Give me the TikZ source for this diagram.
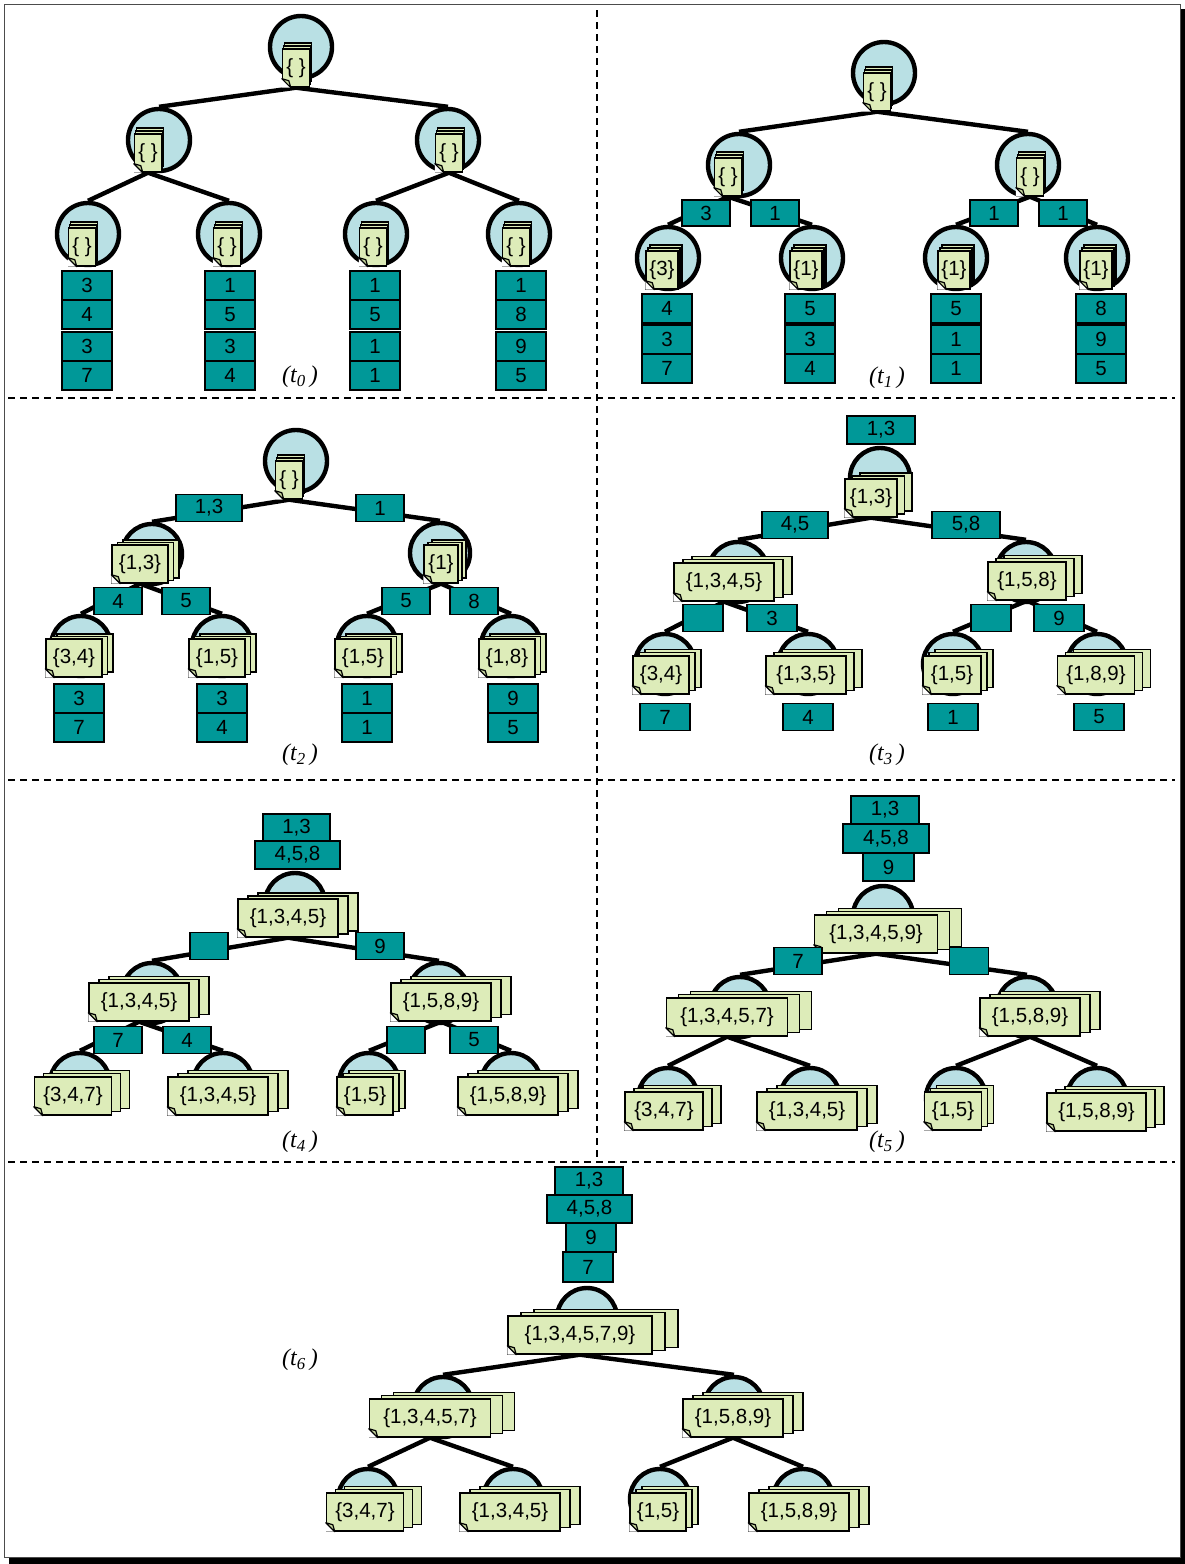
\documentclass[tikz,border=0pt]{standalone}
\usepackage{fontspec}
\setmainfont{Liberation Sans}
\newfontfamily\serifit{Liberation Serif}
\usetikzlibrary{shadows}
\definecolor{tealbox}{RGB}{0,152,152}
\definecolor{cblue}{RGB}{185,224,228}
\definecolor{dgreen}{RGB}{221,236,185}
\definecolor{dfold}{RGB}{196,212,156}
\pgfdeclarelayer{back}\pgfdeclarelayer{bg}\pgfsetlayers{back,bg,main}
\tikzset{
  circ/.style={circle, draw=black, line width=4.4pt, fill=cblue, inner sep=0pt},
  pagesty/.style={fill=dgreen, draw=black, line width=1.4pt},
  docbase/.style={rectangle, draw=black, line width=1.4pt, fill=dgreen, minimum height=38pt,
    inner xsep=2pt, inner ysep=0pt, font=\fontsize{20.5}{22}\selectfont},
  lbl/.style={rectangle, draw=black, line width=1.9pt, fill=tealbox, minimum height=27pt,
    minimum width=48pt, inner sep=0pt, font=\fontsize{20.5}{22}\selectfont},
  leaf/.style={lbl, minimum width=50pt, minimum height=29pt},
  edge/.style={line width=4.4pt, draw=black},
  tlab/.style={font=\fontsize{24}{26}\selectfont\serifit\itshape},
  sep/.style={draw=black, line width=1.3pt, dash pattern=on 7pt off 5pt},
}
\newcommand\dogear[1]{%
  \fill[white] (#1.south west) -- ([xshift=9pt]#1.south west) -- ([yshift=9pt]#1.south west) -- cycle;
  \filldraw[fill=dfold, draw=black, line width=1.2pt, line join=round]
    ([yshift=9pt]#1.south west) -- ([xshift=9pt]#1.south west) -- ([xshift=7pt,yshift=7pt]#1.south west) -- cycle;
}
% #1 name #2 circle centre #3 doc centre #4 text #5 width #6 dx #7 dy #8 circle size
\newcommand\tnode[8]{%
  \node[circ, minimum size=#8pt] (#1) at (#2) {};
  \pgfmathsetmacro\pgdxa{2*#6}\pgfmathsetmacro\pgdya{2*#7}%
  \node[docbase, minimum width=#5pt,
     general shadow={shadow xshift=\pgdxa pt, shadow yshift=\pgdya pt, pagesty},
     general shadow={shadow xshift=#6pt, shadow yshift=#7pt, pagesty}] (#1d) at (#3) {#4};
  \dogear{#1d}%
}
\begin{document}
\begin{tikzpicture}[x=1pt,y=-1pt]
\useasboundingbox (0,0) rectangle (1185,1564);
\begin{pgfonlayer}{back}
\fill[black] (9,9) rectangle (1185,1564);
\filldraw[fill=white, draw=black!70, line width=1pt] (4,4) rectangle (1180,1557);
\draw[sep] (597,10) -- (597,1162);
\draw[sep] (8,398) -- (1175,398);
\draw[sep] (8,780) -- (1175,780);
\draw[sep] (8,1162) -- (1175,1162);
\end{pgfonlayer}

% ---------------- t0 ----------------
\tnode{a0}{301,47}{296,68}{\{ \}}{27}{1}{3}{62}
\tnode{a1}{159,140}{148,153}{\{ \}}{27}{1}{3}{62}
\tnode{a2}{448,140}{449,153}{\{ \}}{27}{1}{3}{62}
\tnode{a3}{88,234}{82,247}{\{ \}}{27}{1}{3}{62}
\tnode{a4}{229,234}{227,247}{\{ \}}{27}{1}{3}{62}
\tnode{a5}{376,234}{373,247}{\{ \}}{27}{1}{3}{62}
\tnode{a6}{519,234}{516,247}{\{ \}}{27}{1}{3}{62}
\begin{pgfonlayer}{bg}
\draw[edge] (a0d.south) -- (a1.north) (a0d.south) -- (a2.north)
  (a1d.south) -- (a3.north) (a1d.south) -- (a4.north)
  (a2d.south) -- (a5.north) (a2d.south) -- (a6.north);
\end{pgfonlayer}
\node[leaf] (a3l1) at (87,285.5) {3};
\node[leaf] (a3l2) at (87,314.5) {4};
\node[leaf] (a3l3) at (87,346.5) {3};
\node[leaf] (a3l4) at (87,375.5) {7};
\node[leaf] (a4l1) at (230,285.5) {1};
\node[leaf] (a4l2) at (230,314.5) {5};
\node[leaf] (a4l3) at (230,346.5) {3};
\node[leaf] (a4l4) at (230,375.5) {4};
\node[leaf] (a5l1) at (375,285.5) {1};
\node[leaf] (a5l2) at (375,314.5) {5};
\node[leaf] (a5l3) at (375,346.5) {1};
\node[leaf] (a5l4) at (375,375.5) {1};
\node[leaf] (a6l1) at (521,285.5) {1};
\node[leaf] (a6l2) at (521,314.5) {8};
\node[leaf] (a6l3) at (521,346.5) {9};
\node[leaf] (a6l4) at (521,375.5) {5};
\node[tlab] (ta) at (300,377) {(t\textsubscript{0}\,)};

% ---------------- t1 ----------------
\tnode{b0}{884,73}{877,92}{\{ \}}{27}{1}{3}{62}
\tnode{b1}{739,165}{728,177}{\{ \}}{27}{1}{3}{62}
\tnode{b2}{1028,165}{1030,177}{\{ \}}{27}{1}{3}{62}
\tnode{b3}{668,258}{662,270}{\{3\}}{32}{2}{3}{62}
\tnode{b4}{812,258}{806,270}{\{1\}}{32}{2}{3}{62}
\tnode{b5}{956,258}{954,270}{\{1\}}{32}{2}{3}{62}
\tnode{b6}{1097,258}{1096,270}{\{1\}}{32}{2}{3}{62}
\begin{pgfonlayer}{bg}
\draw[edge] (b0d.south) -- (b1.north) (b0d.south) -- (b2.north)
  (b1d.south) -- (b3.north) (b1d.south) -- (b4.north)
  (b2d.south) -- (b5.north) (b2d.south) -- (b6.north);
\end{pgfonlayer}
\node[lbl, minimum height=26pt] (be1) at (706,213) {3};
\node[lbl, minimum height=26pt] (be2) at (775,213) {1};
\node[lbl, minimum height=26pt] (be3) at (994,213) {1};
\node[lbl, minimum height=26pt] (be4) at (1063,213) {1};
\node[leaf] (b3l1) at (667,308.5) {4};
\node[leaf] (b3l2) at (667,339.5) {3};
\node[leaf] (b3l3) at (667,368.5) {7};
\node[leaf] (b4l1) at (810,308.5) {5};
\node[leaf] (b4l2) at (810,339.5) {3};
\node[leaf] (b4l3) at (810,368.5) {4};
\node[leaf] (b5l1) at (956,308.5) {5};
\node[leaf] (b5l2) at (956,339.5) {1};
\node[leaf] (b5l3) at (956,368.5) {1};
\node[leaf] (b6l1) at (1101,308.5) {8};
\node[leaf] (b6l2) at (1101,339.5) {9};
\node[leaf] (b6l3) at (1101,368.5) {5};
\node[tlab] (tb) at (887,378) {(t\textsubscript{1}\,)};

% ---------------- t2 ----------------
\tnode{c0}{296,461}{289,480}{\{ \}}{27}{1}{3}{62}
\tnode{c1}{152,554}{140,564}{\{1,3\}}{56}{5.5}{2.5}{60}
\tnode{c2}{440,553}{441,564}{\{1\}}{34}{4}{2.5}{60}
\tnode{c3}{81,646}{74,658}{\{3,4\}}{56}{5.5}{2.5}{60}
\tnode{c4}{222,646}{217,658}{\{1,5\}}{56}{5.5}{2.5}{60}
\tnode{c5}{367,646}{363,658}{\{1,5\}}{56}{5.5}{2.5}{60}
\tnode{c6}{511,646}{507,658}{\{1,8\}}{56}{5.5}{2.5}{60}
\begin{pgfonlayer}{bg}
\draw[edge] (c0d.south) -- (c1.north) (c0d.south) -- (c2.north)
  (c1d.south) -- (c3.north) (c1d.south) -- (c4.north)
  (c2d.south) -- (c5.north) (c2d.south) -- (c6.north);
\end{pgfonlayer}
\node[lbl, minimum width=66pt] (ce1) at (209,508) {1,3};
\node[lbl] (ce2) at (380,508) {1};
\node[lbl] (ce3) at (118,601) {4};
\node[lbl] (ce4) at (186,601) {5};
\node[lbl] (ce5) at (406,601) {5};
\node[lbl] (ce6) at (474,601) {8};
\node[leaf] (c3l1) at (79,698.5) {3};
\node[leaf] (c3l2) at (79,727.5) {7};
\node[leaf] (c4l1) at (222,698.5) {3};
\node[leaf] (c4l2) at (222,727.5) {4};
\node[leaf] (c5l1) at (367,698.5) {1};
\node[leaf] (c5l2) at (367,727.5) {1};
\node[leaf] (c6l1) at (513,698.5) {9};
\node[leaf] (c6l2) at (513,727.5) {5};
\node[tlab] (tc) at (300,755) {(t\textsubscript{2}\,)};

% ---------------- t3 ----------------
\node[lbl, minimum width=68pt, minimum height=28pt] (dt1) at (881,430) {1,3};
\tnode{d0}{880,478}{871,498}{\{1,3\}}{52}{7.5}{3}{60}
\tnode{d1}{738,572}{724,582}{\{1,3,4,5\}}{100}{9}{3.3}{60}
\tnode{d2}{1026,572}{1027,581}{\{1,5,8\}}{78}{8}{3.3}{60}
\tnode{d3}{665,664}{661,675}{\{3,4\}}{56}{6}{3.3}{60}
\tnode{d4}{808,664}{806,675}{\{1,3,5\}}{80}{8}{3.3}{60}
\tnode{d5}{953,664}{952,675}{\{1,5\}}{58}{6}{3.3}{60}
\tnode{d6}{1097,664}{1096,675}{\{1,8,9\}}{77}{8}{3.3}{60}
\begin{pgfonlayer}{bg}
\draw[edge] (d0d.south) -- (d1.north) (d0d.south) -- (d2.north)
  (d1d.south) -- (d3.north) (d1d.south) -- (d4.north)
  (d2d.south) -- (d5.north) (d2d.south) -- (d6.north);
\end{pgfonlayer}
\node[lbl, minimum width=66pt] (de1) at (795,525) {4,5};
\node[lbl, minimum width=68pt] (de2) at (966,525) {5,8};
\node[lbl, minimum width=40pt] (de3) at (703,618) {};
\node[lbl, minimum width=50pt] (de4) at (772,618) {3};
\node[lbl, minimum width=40pt] (de5) at (991,618) {};
\node[lbl, minimum width=50pt] (de6) at (1059,618) {9};
\node[lbl, minimum width=50pt] (d3l1) at (665,717) {7};
\node[lbl, minimum width=50pt] (d4l1) at (808,717) {4};
\node[lbl, minimum width=50pt] (d5l1) at (953,717) {1};
\node[lbl, minimum width=50pt] (d6l1) at (1099,717) {5};
\node[tlab] (td) at (887,755) {(t\textsubscript{3}\,)};

% ---------------- t4 ----------------
\node[lbl, minimum width=67pt] (et1) at (296.5,827.5) {1,3};
\node[lbl, minimum width=85pt, minimum height=28pt] (et2) at (297.5,855) {4,5,8};
\tnode{e0}{295,903}{288,918}{\{1,3,4,5\}}{100}{10}{3}{60}
\tnode{e1}{152,993}{139,1002}{\{1,3,4,5\}}{100}{10}{3.3}{60}
\tnode{e2}{439,993}{441,1002}{\{1,5,8,9\}}{100}{10}{3.3}{60}
\tnode{e3}{80,1083}{73,1096}{\{3,4,7\}}{77}{9}{3.3}{60}
\tnode{e4}{223,1083}{218,1096}{\{1,3,4,5\}}{100}{10}{3.3}{60}
\tnode{e5}{369,1083}{365,1096}{\{1,5\}}{56}{6}{3.3}{60}
\tnode{e6}{511,1083}{508,1096}{\{1,5,8,9\}}{100}{10}{3.3}{60}
\begin{pgfonlayer}{bg}
\draw[edge] (e0d.south) -- (e1.north) (e0d.south) -- (e2.north)
  (e1d.south) -- (e3.north) (e1d.south) -- (e4.north)
  (e2d.south) -- (e5.north) (e2d.south) -- (e6.north);
\end{pgfonlayer}
\node[lbl, minimum width=38pt] (ee1) at (209,946) {};
\node[lbl] (ee2) at (380,946) {9};
\node[lbl] (ee3) at (118,1040) {7};
\node[lbl] (ee4) at (187,1040) {4};
\node[lbl, minimum width=38pt] (ee5) at (406,1040) {};
\node[lbl] (ee6) at (474,1040) {5};
\node[tlab] (te) at (300,1142) {(t\textsubscript{4}\,)};

% ---------------- t5 ----------------
\node[lbl, minimum width=68pt, minimum height=28pt] (ft1) at (885,810) {1,3};
\node[lbl, minimum width=86pt, minimum height=29pt] (ft2) at (886,838.5) {4,5,8};
\node[lbl, minimum width=51pt, minimum height=28pt] (ft3) at (888.5,867) {9};
\tnode{f0}{883,916}{876,934}{\{1,3,4,5,9\}}{123}{12}{3.3}{60}
\tnode{f1}{740,1007}{727,1017}{\{1,3,4,5,7\}}{121}{12}{3.3}{60}
\tnode{f2}{1027,1007}{1030,1017}{\{1,5,8,9\}}{100}{10}{3.3}{60}
\tnode{f3}{668,1098}{664,1111}{\{3,4,7\}}{78}{9}{3.3}{60}
\tnode{f4}{810,1098}{807,1111}{\{1,3,4,5\}}{100}{10}{3.3}{60}
\tnode{f5}{956,1098}{953,1111}{\{1,5\}}{57}{6}{3.3}{60}
\tnode{f6}{1097,1098}{1096.5,1112}{\{1,5,8,9\}}{99}{9}{3.3}{60}
\begin{pgfonlayer}{bg}
\draw[edge] (f0d.south) -- (f1.north) (f0d.south) -- (f2.north)
  (f1d.south) -- (f3.north) (f1d.south) -- (f4.north)
  (f2d.south) -- (f5.north) (f2d.south) -- (f6.north);
\end{pgfonlayer}
\node[lbl] (fe1) at (798,961) {7};
\node[lbl, minimum width=39pt] (fe2) at (969,961) {};
\node[tlab] (tf) at (887,1142) {(t\textsubscript{5}\,)};

% ---------------- t6 ----------------
\node[lbl, minimum width=68pt, minimum height=28pt] (gt1) at (589,1181) {1,3};
\node[lbl, minimum width=85pt, minimum height=28pt] (gt2) at (589.5,1209) {4,5,8};
\node[lbl, minimum width=50pt, minimum height=29pt] (gt3) at (591,1237.5) {9};
\node[lbl, minimum width=50pt, minimum height=30pt] (gt4) at (588,1267) {7};
\tnode{g0}{587,1318}{580,1335}{\{1,3,4,5,7,9\}}{144}{13}{3.3}{60}
\tnode{g1}{443,1407}{430,1418}{\{1,3,4,5,7\}}{121}{12}{3.3}{60}
\tnode{g2}{734,1407}{733,1418}{\{1,5,8,9\}}{100}{10}{3.3}{60}
\tnode{g3}{368,1499}{365,1512}{\{3,4,7\}}{77}{9}{3.3}{60}
\tnode{g4}{513,1499}{510,1512}{\{1,3,4,5\}}{100}{10}{3.3}{60}
\tnode{g5}{660,1499}{658,1512}{\{1,5\}}{56}{6}{3.3}{60}
\tnode{g6}{803,1499}{799,1512}{\{1,5,8,9\}}{100}{10}{3.3}{60}
\begin{pgfonlayer}{bg}
\draw[edge] (g0d.south) -- (g1.north) (g0d.south) -- (g2.north)
  (g1d.south) -- (g3.north) (g1d.south) -- (g4.north)
  (g2d.south) -- (g5.north) (g2d.south) -- (g6.north);
\end{pgfonlayer}
\node[tlab] (tg) at (300,1360) {(t\textsubscript{6}\,)};
\end{tikzpicture}
\end{document}
